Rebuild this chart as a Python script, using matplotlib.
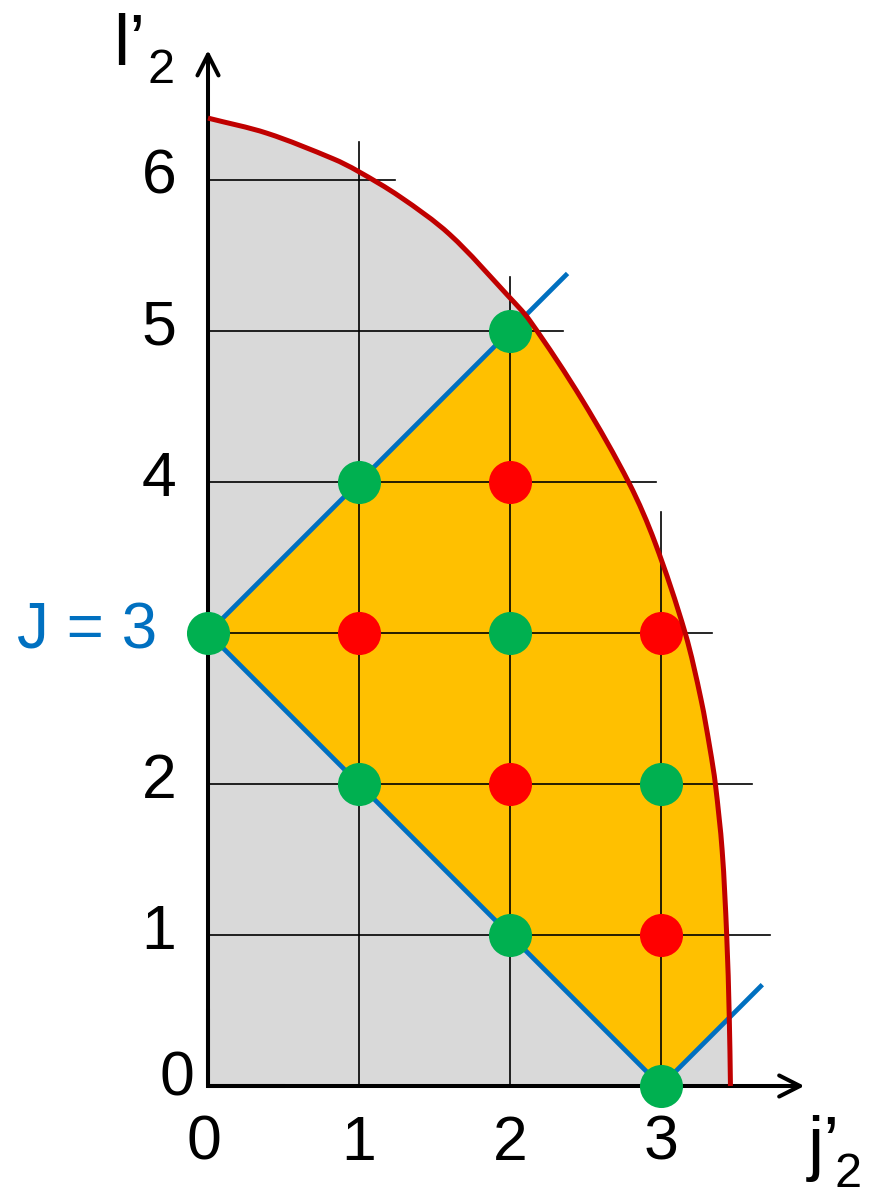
import numpy as np
import matplotlib
matplotlib.use("Agg")
import matplotlib.pyplot as plt
from matplotlib.patches import Polygon, PathPatch
from matplotlib.path import Path

plt.rcParams['font.family'] = ['Liberation Sans', 'DejaVu Sans']

# coupling value J and the allowed (j'2, l'2) states
J = 3
green_x = [0, 1, 2, 1, 2, 3, 2, 3]
green_y = [3, 4, 5, 2, 3, 2, 1, 0]
red_x = [1, 2, 2, 3, 3]
red_y = [3, 4, 2, 3, 1]

# energy limit curve
curve_x = [0.00, 0.39, 0.83, 0.99, 1.27, 1.60, 1.99, 2.13, 2.48, 2.79, 2.96,
           3.16, 3.265, 3.325, 3.36, 3.405, 3.435, 3.452, 3.46]
curve_y = [6.41, 6.31, 6.14, 6.06, 5.89, 5.64, 5.23, 5.07, 4.54, 3.99, 3.60,
           3.00, 2.56, 2.23, 2.00, 1.56, 1.00, 0.46, 0.00]

# grid lines and their extents
vgrid_x = [1, 2, 3]
vgrid_top = [6.25, 5.36, 3.80]
hgrid_y = [1, 2, 3, 4, 5, 6]
hgrid_end = [3.72, 3.60, 3.34, 2.97, 2.35, 1.24]

# where the blue J lines stop
upper_end = 2.37
right_end = 3.66

x_ticks = [0, 1, 2, 3]
y_ticks = [0, 1, 2, 4, 5, 6]   # 3 is replaced by the "J = 3" label

c_gray = '#D9D9D9'
c_orange = '#FFC000'
c_curve = '#C00000'
c_blue = '#0070C0'
c_green = '#00B050'
c_red = '#FF0000'


def smooth_verts(xs, ys):
    """Bezier control points so the path runs smoothly through the points."""
    p = np.column_stack([xs, ys]).astype(float)
    n = len(p)
    d = np.zeros_like(p)
    for i in range(n):
        a = p[max(i - 1, 0)]
        b = p[min(i + 1, n - 1)]
        v = b - a
        d[i] = v / np.hypot(*v)
    verts = []
    for i in range(n - 1):
        L = np.hypot(*(p[i + 1] - p[i]))
        verts += [p[i] + d[i] * L / 3, p[i + 1] - d[i + 1] * L / 3, p[i + 1]]
    return p[0], verts


fig = plt.figure(figsize=(8.7, 11.93), dpi=100)
ax = fig.add_axes([0, 0, 1, 1])
ax.set_xlim(-208 / 151, (870 - 208) / 151)
ax.set_ylim((1086 - 1193) / 151, 1086 / 151)
ax.axis('off')

start, bez = smooth_verts(curve_x, curve_y)

# gray area below the curve
gray_verts = [(0, 0), tuple(start)] + [tuple(v) for v in bez] + [(0, 0)]
gray_codes = [Path.MOVETO, Path.LINETO] + [Path.CURVE4] * len(bez) + [Path.CLOSEPOLY]
gray = PathPatch(Path(gray_verts, gray_codes), facecolor=c_gray,
                 edgecolor='none', zorder=1)
ax.add_patch(gray)

# orange band |j - l| <= J <= j + l, clipped to the gray area
band = Polygon([(0, J), (J, 0), (2 * J, J), (J, 2 * J)], closed=True,
               facecolor=c_orange, edgecolor='none', zorder=2)
ax.add_patch(band)
band.set_clip_path(gray)

# grid
for gx, top in zip(vgrid_x, vgrid_top):
    ax.plot([gx, gx], [0, top], color='black', lw=1.2, zorder=3)
for gy, end in zip(hgrid_y, hgrid_end):
    ax.plot([0, end], [gy, gy], color='black', lw=1.2, zorder=3)

# axes with open arrow heads
arrow = dict(arrowstyle='->,head_length=0.75,head_width=0.38', lw=2.9,
             color='black', shrinkA=0, shrinkB=0, mutation_scale=20)
ax.annotate('', xy=(3.95, 0), xytext=(0, 0), arrowprops=arrow, zorder=4)
ax.annotate('', xy=(0, 6.86), xytext=(0, 0), arrowprops=arrow, zorder=4)
ax.plot([0, 0, 0.5], [0.5, 0, 0], color='black', lw=2.9,
        solid_joinstyle='miter', zorder=4)

# blue J lines
ax.plot([0, upper_end], [J, upper_end + J], color=c_blue, lw=3.4, zorder=5)
ax.plot([0, J, right_end], [J, 0, right_end - J], color=c_blue, lw=3.4,
        solid_joinstyle='miter', zorder=5)

# states
ax.plot(green_x, green_y, 'o', color=c_green, ms=31, mec='none', zorder=6)
ax.plot(red_x, red_y, 'o', color=c_red, ms=31, mec='none', zorder=6)

# limit curve
curve_path = Path([tuple(start)] + [tuple(v) for v in bez],
                  [Path.MOVETO] + [Path.CURVE4] * len(bez))
ax.add_patch(PathPatch(curve_path, facecolor='none', edgecolor=c_curve,
                       lw=3.6, capstyle='butt', zorder=7))

# tick labels
for t in y_ticks:
    if t == 0:
        ax.text(-0.09, -0.06, str(t), fontsize=45, ha='right', va='baseline')
    else:
        ax.text(-0.21, t - 0.09, str(t), fontsize=45, ha='right', va='baseline')
for t in x_ticks:
    xpos = -0.03 if t == 0 else t
    ax.text(xpos, -0.49, str(t), fontsize=45, ha='center', va='baseline')

# axis names
ax.text(-0.63, 6.76, 'l\u2019', fontsize=52, ha='left', va='baseline')
ax.text(-0.40, 6.64, '2', fontsize=35, ha='left', va='baseline')
ax.text(3.97, -0.536, 'j\u2019', fontsize=52, ha='left', va='baseline')
ax.text(4.15, -0.669, '2', fontsize=35, ha='left', va='baseline')

ax.text(-0.80, 2.90, 'J = 3', fontsize=46, color=c_blue, ha='center',
        va='baseline')

fig.savefig('out.png', dpi=100)
